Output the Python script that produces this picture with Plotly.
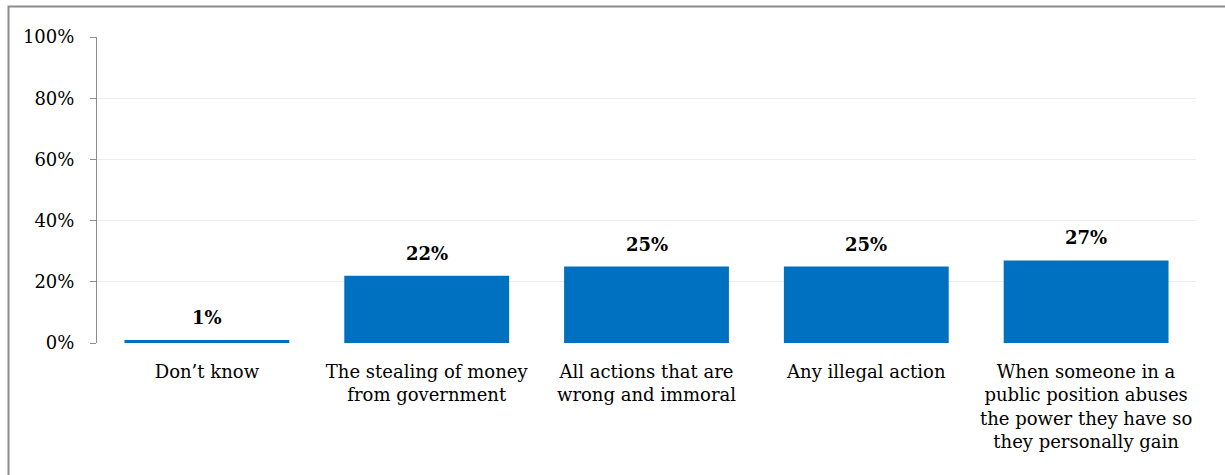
import plotly.graph_objects as go

categories = [
    "Don’t know",
    "The stealing of money<br>from government",
    "All actions that are<br>wrong and immoral",
    "Any illegal action",
    "When someone in a<br>public position abuses<br>the power they have so<br>they personally gain",
]
values = [1, 22, 25, 25, 27]
value_labels = ["1%", "22%", "25%", "25%", "27%"]
y_ticks = [0, 20, 40, 60, 80, 100]
y_tick_labels = ["0%", "20%", "40%", "60%", "80%", "100%"]

W, H = 1225, 475
ML, MR, MT, MB = 97, 29, 37, 132
plot_w = W - ML - MR
plot_h = H - MT - MB

FONT = "DejaVu Serif"

fig = go.Figure()
fig.add_trace(go.Bar(
    x=categories,
    y=values,
    marker=dict(color="#0070C0", line=dict(width=0)),
    hoverinfo="skip",
))

# value labels above each bar
for c, v, t in zip(categories, values, value_labels):
    fig.add_annotation(
        x=c, y=v, text=f"<b>{t}</b>", showarrow=False,
        yanchor="bottom", yshift=10,
        font=dict(family=FONT, size=18, color="#000000"),
    )

# outer frame of the chart area
def px_x(px):
    return (px - ML) / plot_w

def px_y(py):
    return (H - MB - py) / plot_h

fig.add_shape(
    type="rect", xref="paper", yref="paper",
    x0=px_x(8.5), x1=px_x(1240), y0=px_y(490), y1=px_y(6.5),
    line=dict(color="#8C8C8C", width=2), fillcolor="rgba(0,0,0,0)",
    layer="above",
)

fig.update_layout(
    width=W, height=H,
    margin=dict(l=ML, r=MR, t=MT, b=MB),
    paper_bgcolor="white", plot_bgcolor="white",
    bargap=0.25,
    showlegend=False,
    font=dict(family=FONT, size=18, color="#000000"),
    xaxis=dict(
        type="category",
        showgrid=False, showline=False, ticks="",
        tickfont=dict(family=FONT, size=18, color="#000000"),
        ticklabelstandoff=16,
    ),
    yaxis=dict(
        range=[0, 100],
        tickvals=y_ticks, ticktext=y_tick_labels,
        showgrid=True, gridcolor="#EDEDED", gridwidth=1,
        zeroline=False,
        showline=True, linecolor="#8C8C8C", linewidth=1,
        ticks="outside", ticklen=6, tickcolor="#8C8C8C",
        tickfont=dict(family=FONT, size=18, color="#000000"),
        ticklabelstandoff=12,
    ),
)

fig.write_html("out.html")
